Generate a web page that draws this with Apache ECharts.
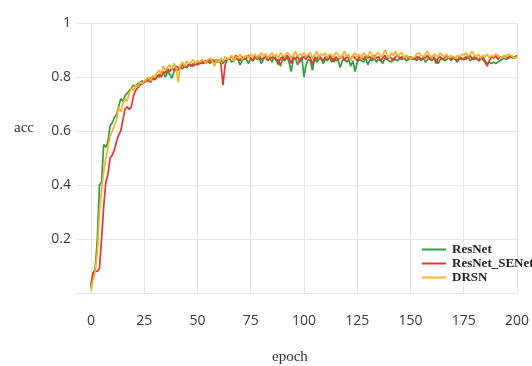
<!DOCTYPE html>
<html>
<head>
<meta charset="utf-8">
<script src="https://cdn.jsdelivr.net/npm/echarts@6/dist/echarts.min.js"></script>
<style>
  html, body { margin: 0; padding: 0; background: #fff; }
  #chartBox { width: 532px; height: 366px; }
</style>
</head>
<body>
<div id="chartBox"></div>
<script>
const xTicks = [0, 25, 50, 75, 100, 125, 150, 175, 200];
const seriesNames = ['ResNet', 'ResNet_SENet', 'DRSN'];

// accuracy per epoch, 0..200
const resnet = [
  0.02, 0.07, 0.09, 0.20, 0.40, 0.41, 0.55, 0.54, 0.56, 0.62, 0.63, 0.65, 0.66,
  0.69, 0.72, 0.71, 0.73, 0.74, 0.75, 0.76, 0.77, 0.765, 0.775, 0.78, 0.785, 0.78,
  0.79, 0.785, 0.795, 0.80, 0.79, 0.805, 0.80, 0.81, 0.815, 0.80, 0.82, 0.81, 0.795,
  0.82, 0.83, 0.825, 0.835, 0.83, 0.84, 0.835, 0.845, 0.84, 0.85, 0.845, 0.85,
  0.855, 0.85, 0.86, 0.855, 0.86, 0.85, 0.865, 0.86, 0.855, 0.86, 0.865, 0.85, 0.86,
  0.865, 0.87, 0.855, 0.86, 0.87, 0.865, 0.845, 0.86, 0.87, 0.865, 0.85, 0.87,
  0.86, 0.875, 0.865, 0.87, 0.85, 0.865, 0.875, 0.86, 0.87, 0.855, 0.875, 0.86, 0.865,
  0.84, 0.87, 0.86, 0.875, 0.855, 0.82, 0.865, 0.87, 0.845, 0.86, 0.875, 0.80,
  0.845, 0.865, 0.86, 0.825, 0.87, 0.855, 0.865, 0.87, 0.85, 0.865, 0.86, 0.875, 0.855,
  0.87, 0.86, 0.865, 0.835, 0.86, 0.87, 0.855, 0.865, 0.84, 0.86, 0.82, 0.855,
  0.865, 0.86, 0.855, 0.87, 0.845, 0.865, 0.86, 0.87, 0.855, 0.865, 0.86, 0.85, 0.87,
  0.865, 0.86, 0.855, 0.87, 0.865, 0.86, 0.87, 0.865, 0.875, 0.86, 0.865, 0.87,
  0.865, 0.87, 0.86, 0.875, 0.865, 0.87, 0.855, 0.865, 0.87, 0.86, 0.87, 0.865, 0.85,
  0.865, 0.87, 0.86, 0.865, 0.875, 0.86, 0.87, 0.865, 0.855, 0.87, 0.865, 0.87,
  0.865, 0.875, 0.86, 0.87, 0.865, 0.87, 0.86, 0.865, 0.875, 0.86, 0.85, 0.855, 0.85,
  0.855, 0.85, 0.855, 0.86, 0.865, 0.87, 0.865, 0.87, 0.875, 0.87, 0.875, 0.88
];
const resnetSE = [
  0.03, 0.075, 0.08, 0.08, 0.09, 0.20, 0.32, 0.41, 0.44, 0.50, 0.51, 0.53, 0.56,
  0.585, 0.60, 0.64, 0.68, 0.69, 0.68, 0.69, 0.73, 0.75, 0.76, 0.77, 0.775, 0.78,
  0.785, 0.79, 0.78, 0.795, 0.79, 0.80, 0.81, 0.80, 0.82, 0.815, 0.83, 0.82, 0.835,
  0.825, 0.84, 0.835, 0.83, 0.845, 0.84, 0.835, 0.85, 0.845, 0.84, 0.85, 0.845,
  0.85, 0.855, 0.85, 0.86, 0.855, 0.865, 0.86, 0.855, 0.865, 0.86, 0.85, 0.77, 0.845,
  0.865, 0.87, 0.875, 0.865, 0.88, 0.87, 0.86, 0.875, 0.865, 0.87, 0.88, 0.87,
  0.86, 0.875, 0.87, 0.88, 0.865, 0.87, 0.885, 0.86, 0.875, 0.87, 0.88, 0.865, 0.845,
  0.87, 0.875, 0.86, 0.88, 0.87, 0.85, 0.875, 0.865, 0.88, 0.855, 0.87, 0.875,
  0.865, 0.88, 0.87, 0.845, 0.875, 0.865, 0.88, 0.87, 0.86, 0.875, 0.865, 0.88, 0.87,
  0.855, 0.875, 0.865, 0.87, 0.88, 0.86, 0.875, 0.87, 0.865, 0.88, 0.87, 0.86,
  0.875, 0.87, 0.865, 0.88, 0.87, 0.875, 0.865, 0.88, 0.87, 0.875, 0.86, 0.87, 0.88,
  0.865, 0.875, 0.87, 0.86, 0.875, 0.88, 0.87, 0.875, 0.865, 0.88, 0.87, 0.875,
  0.87, 0.865, 0.875, 0.87, 0.86, 0.875, 0.87, 0.88, 0.865, 0.87, 0.875, 0.85, 0.87,
  0.875, 0.865, 0.87, 0.88, 0.87, 0.865, 0.875, 0.87, 0.86, 0.875, 0.87, 0.865,
  0.875, 0.87, 0.88, 0.865, 0.875, 0.87, 0.86, 0.875, 0.865, 0.855, 0.84, 0.86, 0.875,
  0.87, 0.88, 0.865, 0.875, 0.87, 0.88, 0.875, 0.87, 0.88, 0.875, 0.87, 0.875
];
const drsn = [
  0.01, 0.05, 0.08, 0.15, 0.30, 0.38, 0.45, 0.50, 0.54, 0.58, 0.60, 0.62, 0.64,
  0.69, 0.67, 0.70, 0.72, 0.71, 0.74, 0.76, 0.75, 0.77, 0.765, 0.78, 0.775, 0.785,
  0.79, 0.80, 0.785, 0.805, 0.80, 0.815, 0.825, 0.81, 0.84, 0.825, 0.835, 0.845, 0.83,
  0.85, 0.835, 0.78, 0.845, 0.855, 0.84, 0.86, 0.85, 0.855, 0.865, 0.85, 0.86,
  0.855, 0.865, 0.86, 0.85, 0.865, 0.87, 0.86, 0.84, 0.865, 0.855, 0.87, 0.86, 0.875,
  0.865, 0.87, 0.88, 0.86, 0.875, 0.87, 0.885, 0.865, 0.875, 0.88, 0.87, 0.885,
  0.875, 0.885, 0.87, 0.88, 0.89, 0.875, 0.885, 0.87, 0.88, 0.89, 0.875, 0.885, 0.87,
  0.89, 0.88, 0.875, 0.89, 0.885, 0.87, 0.88, 0.895, 0.875, 0.885, 0.88, 0.89,
  0.875, 0.885, 0.89, 0.87, 0.88, 0.895, 0.875, 0.885, 0.88, 0.89, 0.87, 0.885, 0.88,
  0.875, 0.89, 0.885, 0.87, 0.88, 0.895, 0.875, 0.885, 0.86, 0.88, 0.89, 0.875,
  0.885, 0.87, 0.89, 0.88, 0.875, 0.895, 0.88, 0.87, 0.885, 0.89, 0.875, 0.88, 0.90,
  0.885, 0.87, 0.89, 0.88, 0.895, 0.875, 0.885, 0.89, 0.87, 0.88, 0.875, 0.87,
  0.87, 0.875, 0.885, 0.89, 0.88, 0.875, 0.885, 0.895, 0.88, 0.87, 0.885, 0.88, 0.875,
  0.89, 0.88, 0.875, 0.885, 0.87, 0.88, 0.875, 0.87, 0.88, 0.875, 0.885, 0.88,
  0.89, 0.875, 0.885, 0.895, 0.88, 0.875, 0.885, 0.87, 0.88, 0.875, 0.885, 0.87, 0.88,
  0.875, 0.885, 0.88, 0.875, 0.87, 0.88, 0.875, 0.885, 0.88, 0.875, 0.87, 0.875
];

const toPairs = (arr) => arr.map((v, i) => [i, v]);

const chartDom = document.getElementById('chartBox');
const myChart = echarts.init(chartDom, null, { renderer: 'canvas' });

const gridColor = '#e6e6e6';
const labelStyle = { color: '#3a3a3a', fontSize: 14, fontFamily: 'Open Sans' };

const option = {
  animation: false,
  backgroundColor: '#fff',
  color: ['#2f9e3b', '#e8352e', '#f8b12c'],
  grid: { left: 76, right: 9, top: 23, bottom: 73 },
  legend: {
    orient: 'vertical',
    left: 417,
    top: 238,
    itemWidth: 24,
    itemHeight: 2,
    itemGap: 1,
    icon: 'rect',
    data: seriesNames,
    textStyle: {
      fontFamily: 'Liberation Serif',
      fontWeight: 'bold',
      fontSize: 13,
      lineHeight: 13,
      color: '#222',
      padding: [0, 0, 0, 1]
    }
  },
  xAxis: {
    type: 'value',
    min: -7,
    max: 200,
    axisLine: { show: false },
    axisTick: { show: false, customValues: xTicks },
    axisLabel: Object.assign({ customValues: xTicks, margin: 21 }, labelStyle),
    splitLine: { show: true, lineStyle: { color: gridColor, width: 1 } }
  },
  yAxis: {
    type: 'value',
    min: 0,
    max: 1,
    interval: 0.2,
    axisLine: { show: false },
    axisTick: { show: false },
    axisLabel: Object.assign({
      margin: 5,
      formatter: (v) => (v === 0 ? '' : String(+v.toFixed(1)))
    }, labelStyle),
    splitLine: { show: true, lineStyle: { color: gridColor, width: 1 } }
  },
  graphic: [
    {
      type: 'text', left: 14, top: 121,
      style: { text: 'acc', fontFamily: 'Liberation Serif', fontSize: 15, fill: '#333' }
    },
    {
      type: 'text', left: 272, top: 350,
      style: { text: 'epoch', fontFamily: 'Liberation Serif', fontSize: 15, fill: '#333' }
    }
  ],
  series: [
    { name: seriesNames[0], type: 'line', data: toPairs(resnet) },
    { name: seriesNames[1], type: 'line', data: toPairs(resnetSE) },
    { name: seriesNames[2], type: 'line', data: toPairs(drsn) }
  ].map((s) => Object.assign(s, {
    showSymbol: false,
    symbol: 'none',
    lineStyle: { width: 1.7 }
  }))
};

option && myChart.setOption(option);
</script>
</body>
</html>
